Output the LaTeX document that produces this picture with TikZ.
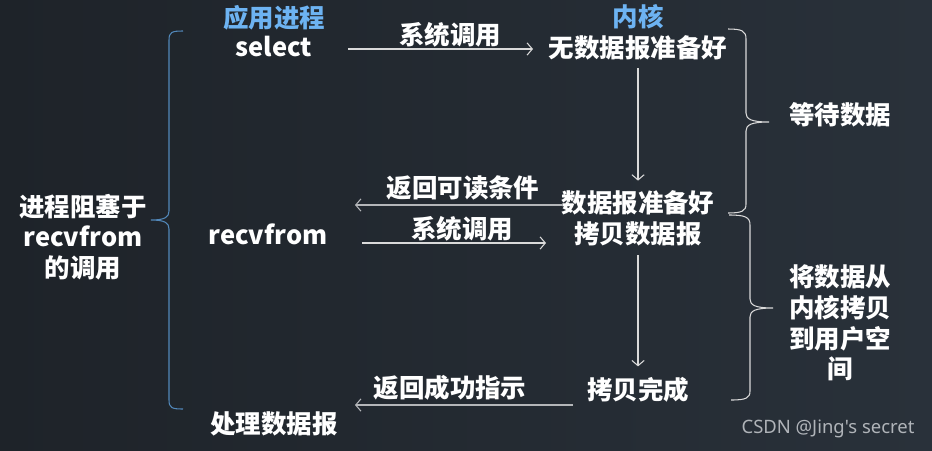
\documentclass[tikz,border=0pt]{standalone}
\usepackage{fontspec}
\setmainfont{Noto Sans CJK SC}
\newfontfamily\marksans{Noto Sans}
\usetikzlibrary{arrows.meta,calc}

\definecolor{bgleft}{HTML}{1E2329}
\definecolor{bgright}{HTML}{29313A}
\definecolor{headblue}{HTML}{6DB3F2}
\definecolor{bracblue}{HTML}{5288BA}
\definecolor{linegray}{HTML}{DADADA}
\definecolor{backgray}{HTML}{B4B6B9}
\definecolor{markgray}{HTML}{B0B4B9}

\tikzset{
  lbl/.style={text=white, font=\fontsize{14.5}{17.5}\selectfont\bfseries, inner sep=1pt},
  head/.style={lbl, text=headblue},
  side/.style={lbl, align=center},
  call/.style={draw=linegray, line width=0.6pt, -{Straight Barb[length=3pt,width=7pt]}},
  back/.style={call, draw=backgray},
  curl/.style={line width=0.6pt},
}

\begin{document}
\begin{tikzpicture}[x=0.02cm, y=-0.02cm]
    % background
    \shade[left color=bgleft, right color=bgright] (0,0) rectangle (932,450);
    \useasboundingbox (0,0) rectangle (932,450);

    % column heads
    \node[head] (app) at (274,18) {应用进程};
    \node[head] (kernel) at (638,17) {内核};

    % application side
    \node[lbl] (sel) at (274,46) {select};
    \node[lbl] (recv) at (268,234) {recvfrom};
    \node[lbl] (handle) at (274,424) {处理数据报};

    % kernel side
    \node[lbl] (nodata) at (638,48) {无数据报准备好};
    \node[lbl] (ready) at (638,203) {数据报准备好};
    \node[lbl] (copy) at (638,234) {拷贝数据报};
    \node[lbl] (done) at (638,390) {拷贝完成};

    % calls and returns
    \draw[call] ($(sel)+(74,3)$) -- ($(nodata)+(-105,1)$);
    \node[lbl] (call1) at (450,35) {系统调用};

    \draw[call, shorten <=0.12cm, shorten >=0.16cm] (nodata) -- (ready);

    \draw[back] ($(ready)+(-76,2)$) -- ($(ready -| recv)+(87,2)$);
    \node[lbl] (ret1) at (463,188) {返回可读条件};

    \draw[call] ($(recv)+(94,9)$) -- ($(copy)+(-92,9)$);
    \node[lbl] (call2) at (462,229) {系统调用};

    \draw[call, shorten <=0.14cm, shorten >=0.18cm] (copy) -- (done);

    \draw[back] ($(done)+(-65,15)$) -- ($(handle)+(81,-19)$);
    \node[lbl] (ret2) at (450,388) {返回成功指示};

    % braces
    \draw[curl, draw=bracblue] (183,31) .. controls (172,31) and (169,32) .. (169,40)
        -- (169,211) .. controls (169,217) and (165,220) .. (151,220)
        .. controls (165,220) and (169,223) .. (169,229)
        -- (169,400) .. controls (169,408) and (172,409) .. (183,409);
    \node[side] (block) at (83,237) {进程阻塞于\\recvfrom\\的调用};

    \draw[curl, draw=linegray] (728,29) .. controls (742,29) and (746,31) .. (746,39)
        -- (746,113) .. controls (746,119) and (751,122) .. (769,122)
        .. controls (751,122) and (746,125) .. (746,131)
        -- (746,204) .. controls (746,211) and (742,213) .. (728,213);
    \node[side] (wait) at (840,115) {等待数据};

    \draw[curl, draw=linegray] (729,215) .. controls (745,215) and (750,217) .. (750,225)
        -- (750,299) .. controls (750,305) and (755,308) .. (773,308)
        .. controls (755,308) and (750,311) .. (750,317)
        -- (750,391) .. controls (750,398) and (746,400) .. (731,400);
    \node[side] (move) at (840,323) {将数据从\\内核拷贝\\到用户空\\间};

    \node[text=markgray, font=\marksans\fontsize{10.5}{12}\selectfont] (mark) at (828,429) {CSDN @Jing's secret};
\end{tikzpicture}
\end{document}
